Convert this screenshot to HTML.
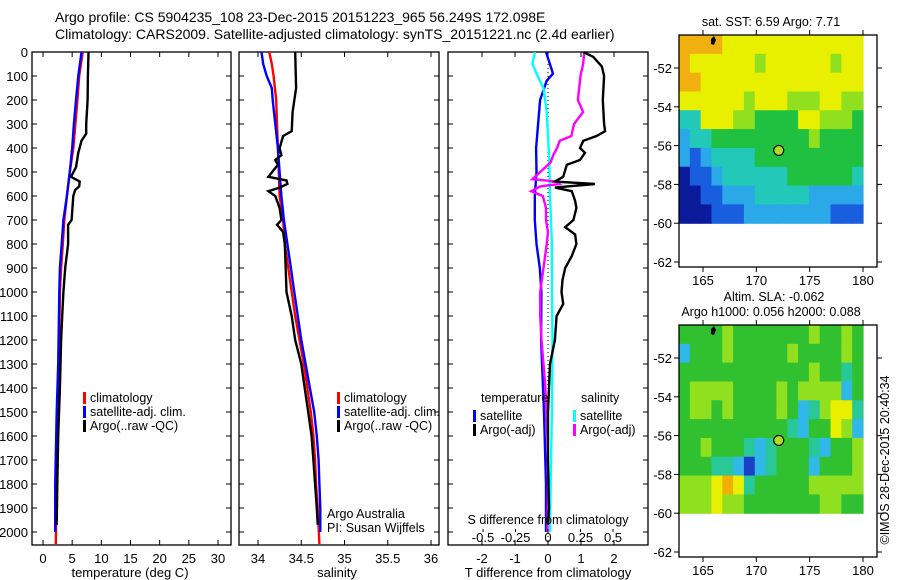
<!DOCTYPE html>
<html><head><meta charset="utf-8"><title>Argo profile</title>
<style>
html,body{margin:0;padding:0;background:#fff;}
svg{display:block;font-family:"Liberation Sans",sans-serif;}
</style></head>
<body>
<svg id="fig" width="900" height="580" viewBox="0 0 900 580" xmlns="http://www.w3.org/2000/svg">
<g id="titles">
<text x="55" y="22" font-size="14">Argo profile: CS 5904235_108 23-Dec-2015 20151223_965 56.249S 172.098E</text>
<text x="55" y="39" font-size="14">Climatology: CARS2009. Satellite-adjusted climatology: synTS_20151221.nc (2.4d earlier)</text>
</g>
<g id="layer"></g>
</svg>
<script>
// ---------- data ----------
const depthTicks = [0,100,200,300,400,500,600,700,800,900,1000,1100,1200,1300,1400,1500,1600,1700,1800,1900,2000];
const tempTicks = [0,5,10,15,20,25,30];
const salTicks = [34,34.5,35,35.5,36];
const salTickLabels = ["34","34.5","35","35.5","36"];
const tdiffTicks = [-2,-1,0,1,2];
const sdiffTicks = [-0.5,-0.25,0,0.25,0.5];
const sdiffTickLabels = ["-0.5","-0.25","0","0.25","0.5"];

const tClimDepth = [0,100,200,300,400,500,600,700,800,900,1000,1200,1500,1800,2050];
const tClim = [6.8,6.2,5.9,5.55,5.2,4.6,4.1,3.65,3.4,3.1,2.9,2.8,2.5,2.35,2.2];
const tSatDepth = [0,100,200,300,400,500,600,700,800,900,1000,1300,1500,1800,2000];
const tSat = [6.6,6.05,5.65,5.3,5.0,4.6,4.1,3.5,3.2,2.9,2.8,2.6,2.35,2.1,2.1];
const tArgoDepth = [0,100,200,300,340,370,420,480,520,540,560,575,600,700,720,800,900,1000,1100,1200,1400,1600,1800,1970];
const tArgo = [7.8,7.7,7.65,7.4,7.4,6.6,6.05,5.65,4.8,6.3,6.2,5.5,5.2,4.9,4.3,4.3,3.8,3.5,3.3,3.1,2.9,2.6,2.45,2.35];

const sClimDepth = [0,50,100,200,300,400,500,600,700,800,900,1000,1100,1200,1300,1400,1500,1600,1700,1800,1900,2050];
const sClim = [34.13,34.16,34.18,34.21,34.22,34.23,34.24,34.25,34.29,34.31,34.35,34.39,34.43,34.48,34.53,34.57,34.61,34.64,34.66,34.67,34.69,34.71];
const sSatDepth = [0,50,100,150,200,300,400,500,600,700,800,900,1000,1100,1200,1300,1400,1500,1600,1700,1800,1900,2000];
const sSat = [34.04,34.06,34.10,34.16,34.17,34.20,34.23,34.25,34.27,34.30,34.34,34.38,34.42,34.46,34.50,34.55,34.60,34.65,34.68,34.70,34.71,34.72,34.72];
const sArgoDepth = [0,150,250,330,350,400,430,450,470,520,535,550,565,580,600,650,700,720,750,800,900,1000,1100,1200,1300,1400,1500,1600,1700,1800,1900,1970];
const sArgo = [34.43,34.44,34.40,34.39,34.29,34.25,34.27,34.20,34.23,34.12,34.33,34.34,34.25,34.12,34.20,34.25,34.27,34.22,34.29,34.31,34.32,34.33,34.39,34.43,34.50,34.54,34.58,34.62,34.64,34.66,34.68,34.69];

const dTSatDepth = [0,90,120,200,300,400,500,600,700,800,900,1000,1200,1500,1800,2000];
const dTSat = [-0.06,0.15,-0.04,-0.24,-0.3,-0.36,-0.35,-0.4,-0.4,-0.35,-0.25,-0.2,-0.21,-0.12,-0.06,-0.06];
const dTArgoDepth = [0,20,60,100,200,300,330,350,370,400,420,450,470,520,540,550,565,580,620,650,700,730,760,800,850,900,950,1000,1050,1100,1200,1300,1400,1500,1700,1900,1970];
const dTArgo = [1.07,1.37,1.63,1.7,1.66,1.7,1.73,1.47,1.07,0.97,1.12,0.97,0.57,0.46,0.21,1.42,0.21,0.72,0.82,0.86,0.77,0.52,0.82,0.86,0.72,0.52,0.44,0.41,0.46,0.26,0.21,0.06,0.03,0.0,0.0,0.03,0.0];
const dSSatDepth = [0,50,100,150,250,350,450,600,800,1000,1200,1500,1800,2000];
const dSSat = [-0.1,-0.12,-0.08,-0.035,-0.01,0.0,0.01,0.015,0.03,0.03,0.035,0.03,0.02,0.015];
const dSArgoDepth = [0,50,100,200,250,300,350,370,400,430,460,500,530,540,550,560,580,600,650,700,750,800,900,1000,1100,1200,1300,1400,1600,1800,2000];
const dSArgo = [0.28,0.27,0.25,0.23,0.27,0.2,0.18,0.09,0.07,0.04,0.02,-0.06,-0.12,0.07,0.09,-0.06,-0.13,-0.04,-0.015,-0.015,0.0,-0.01,-0.035,-0.06,-0.06,-0.05,-0.035,-0.02,-0.005,0.0,-0.005];

const latTicks = [-52,-54,-56,-58,-62,-60];
const lonTicks = [165,170,175,180];
const sstPalette = ["#0a1a9a","#1a5ee0","#2aa8e8","#22c8b8","#20c040","#90e020","#e8f000","#f0b010"];
const sstGrid = [
"77776666666666666","76666665666666566","77666666666666666","66666656665556655",
"33666554444665554","23344444444454444","21233334444444444","01123333334444443",
"00112223333322222","00011122222222111"];
const slaPalette = ["#1a40c8","#30b8e8","#28c898","#30c030","#90e020","#e8f000","#f0b000"];
const slaGrid = [
"33334333333343343","13334333334333343","33333333333343323","34444333343444413",
"34434333343124552","33333333332133541","33433321233321334","33322101233313334",
"44456523333344444","44454433333334433"];
const argoLon = 172.098, argoLat = -56.249;

// ---------- helpers ----------
const NS="http://www.w3.org/2000/svg";
const layer=document.getElementById('layer');
function mk(tag,attrs,parent){const e=document.createElementNS(NS,tag);for(const k in attrs)e.setAttribute(k,attrs[k]);(parent||layer).appendChild(e);return e;}
function txt(x,y,s,size,anchor,parent){const t=mk('text',{x:x,y:y,'font-size':size||13,'text-anchor':anchor||'start'},parent);t.textContent=s;return t;}

const yTop=52, yBot=545;
const yD=d=>yTop+d*0.24;
const xT=v=>43+v*5.833;
const xS=v=>258+(v-34)*86.5;
const xDT=v=>548+v*33;
const xDS=v=>548+v*130;

function panel(x0,x1,name){
  const g=mk('g',{});
  
  
  mk('rect',{x:x0,y:yTop,width:x1-x0,height:yBot-yTop,fill:'none',stroke:'#000','stroke-width':1.3},g);
  depthTicks.forEach(d=>{mk('line',{x1:x0,x2:x0+5,y1:yD(d),y2:yD(d),stroke:'#000'},g);mk('line',{x1:x1-5,x2:x1,y1:yD(d),y2:yD(d),stroke:'#000'},g);});
  return g;
}
function line(ds,vs,xf,color,name,parent){
  let d='';ds.forEach((dd,i)=>{d+=(i?'L':'M')+xf(vs[i]).toFixed(1)+','+yD(dd).toFixed(1);});
  const p=mk('path',{d:d,fill:'none',stroke:color,'stroke-width':2.4,'stroke-linejoin':'miter'},parent);
  
  
  return p;
}
function legend(x,y,items,parent){
  items.forEach((it,i)=>{
    mk('rect',{x:x,y:y+i*14-6,width:3,height:12,fill:it[0]},parent);
    const t=txt(x+7,y+i*14+4,it[1],12.5,'start',parent);
    
    
  });
}

// depth labels
const dl=mk('g',{});


depthTicks.forEach(d=>txt(28,yD(d)+5,String(d),13,'end',dl));

// temperature panel
const p1=panel(32,231,'temperature-panel');
tempTicks.forEach(v=>{mk('line',{x1:xT(v),x2:xT(v),y1:yBot,y2:yBot-5,stroke:'#000'},p1);mk('line',{x1:xT(v),x2:xT(v),y1:yTop,y2:yTop+5,stroke:'#000'},p1);txt(xT(v),563,String(v),13,'middle',p1);});
txt(130,577,'temperature (deg C)',13,'middle',p1);
line(tClimDepth,tClim,xT,'#f00','temp-climatology-line',p1);
line(tSatDepth,tSat,xT,'#00f','temp-satellite-line',p1);
line(tArgoDepth,tArgo,xT,'#000','temp-argo-line',p1);
legend(83,398,[['#f00','climatology'],['#00f','satellite-adj. clim.'],['#000','Argo(..raw -QC)']],p1);

// salinity panel
const p2=panel(239,439,'salinity-panel');
salTicks.forEach((v,i)=>{mk('line',{x1:xS(v),x2:xS(v),y1:yBot,y2:yBot-5,stroke:'#000'},p2);mk('line',{x1:xS(v),x2:xS(v),y1:yTop,y2:yTop+5,stroke:'#000'},p2);txt(xS(v),563,salTickLabels[i],13,'middle',p2);});
txt(337,577,'salinity',13,'middle',p2);
line(sClimDepth,sClim,xS,'#f00','sal-climatology-line',p2);
line(sSatDepth,sSat,xS,'#00f','sal-satellite-line',p2);
line(sArgoDepth,sArgo,xS,'#000','sal-argo-line',p2);
legend(337,398,[['#f00','climatology'],['#00f','satellite-adj. clim.'],['#000','Argo(..raw -QC)']],p2);
txt(327,518,'Argo Australia',12.5,'start',p2);
txt(327,532,'PI: Susan Wijffels',12.5,'start',p2);

// difference panel
const p3=panel(448,648,'difference-panel');
mk('line',{x1:548,x2:548,y1:yTop,y2:yBot,stroke:'#000','stroke-dasharray':'1,3'},p3);
tdiffTicks.forEach(v=>{mk('line',{x1:xDT(v),x2:xDT(v),y1:yBot,y2:yBot-5,stroke:'#000'},p3);mk('line',{x1:xDT(v),x2:xDT(v),y1:yTop,y2:yTop+5,stroke:'#000'},p3);txt(xDT(v),563,String(v),13,'middle',p3);});
line(dTSatDepth,dTSat,xDT,'#00f','tdiff-satellite-line',p3);
line(dSSatDepth,dSSat,xDS,'#0ff','sdiff-satellite-line',p3);
line(dSArgoDepth,dSArgo,xDS,'#f0f','sdiff-argo-line',p3);
line(dTArgoDepth,dTArgo,xDT,'#000','tdiff-argo-line',p3);
sdiffTicks.forEach((v,i)=>{mk('line',{x1:xDS(v),x2:xDS(v),y1:529,y2:532,stroke:'#000'},p3);txt(xDS(v),542,sdiffTickLabels[i],13,'middle',p3);});
txt(548,524,'S difference from climatology',12.5,'middle',p3);
txt(548,577,'T difference from climatology',13,'middle',p3);
txt(481,402,'temperature',12.5,'start',p3);
txt(581,402,'salinity',12.5,'start',p3);
legend(473,416,[['#00f','satellite'],['#000','Argo(-adj)']],p3);
legend(573,416,[['#0ff','satellite'],['#f0f','Argo(-adj)']],p3);

// maps
const xL=v=>703+(v-165)*10.667;
function drawMap(top,grid,pal,name,titleLines){
  const g=mk('g',{});
  
  
  const yL=v=>top+33+(-52-v)*19.4;
  const rows=grid.length, cols=grid[0].length;
  const x0=xL(162.75), x1=xL(180), y0=yL(-50.3), y1=yL(-60);
  const cw=(x1-x0)/cols, ch=(y1-y0)/rows;
  grid.forEach((r,ri)=>{for(let ci=0;ci<cols;ci++){
    const c=mk('rect',{x:(x0+ci*cw).toFixed(2),y:(y0+ri*ch).toFixed(2),width:(cw+0.6).toFixed(2),height:(ch+0.6).toFixed(2),fill:pal[+r[ci]]},g);
    
    
  }});
  mk('rect',{x:679,y:top,width:198,height:232,fill:'none',stroke:'#000','stroke-width':1.3},g);
  latTicks.forEach(v=>{mk('line',{x1:877,x2:882,y1:yL(v),y2:yL(v),stroke:'#000'},g);mk('line',{x1:679,x2:674,y1:yL(v),y2:yL(v),stroke:'#000'},g);txt(672,yL(v)+5,String(v),13,'end',g);});
  lonTicks.forEach(v=>{mk('line',{x1:xL(v),x2:xL(v),y1:top+232,y2:top+237,stroke:'#000'},g);mk('line',{x1:xL(v),x2:xL(v),y1:top,y2:top-5,stroke:'#000'},g);txt(xL(v),top+250,String(v),13,'middle',g);});
  mk('path',{d:'M711,'+(top+4)+'l3,-3l2,4l-2,5l-3,-1z',fill:'#000'},g);
  const m=mk('circle',{cx:xL(argoLon),cy:yL(argoLat),r:5,fill:'#a8e020',stroke:'#000','stroke-width':1.2},g);
  
  
  titleLines.forEach((t,i)=>txt(t[1],t[2],t[0],12.5,'middle',g));
}
drawMap(35,sstGrid,sstPalette,'sst-map',[['sat. SST: 6.59  Argo: 7.71',771,26]]);
drawMap(325,slaGrid,slaPalette,'sla-map',[['Altim. SLA: -0.062',774,301],['Argo h1000: 0.056 h2000: 0.088',771,316]]);
const cp=txt(0,0,'\u00A9IMOS 28-Dec-2015 20:40:34',12.5,'middle');
cp.setAttribute('transform','translate(889,460) rotate(-90)');


</script>
</body></html>
